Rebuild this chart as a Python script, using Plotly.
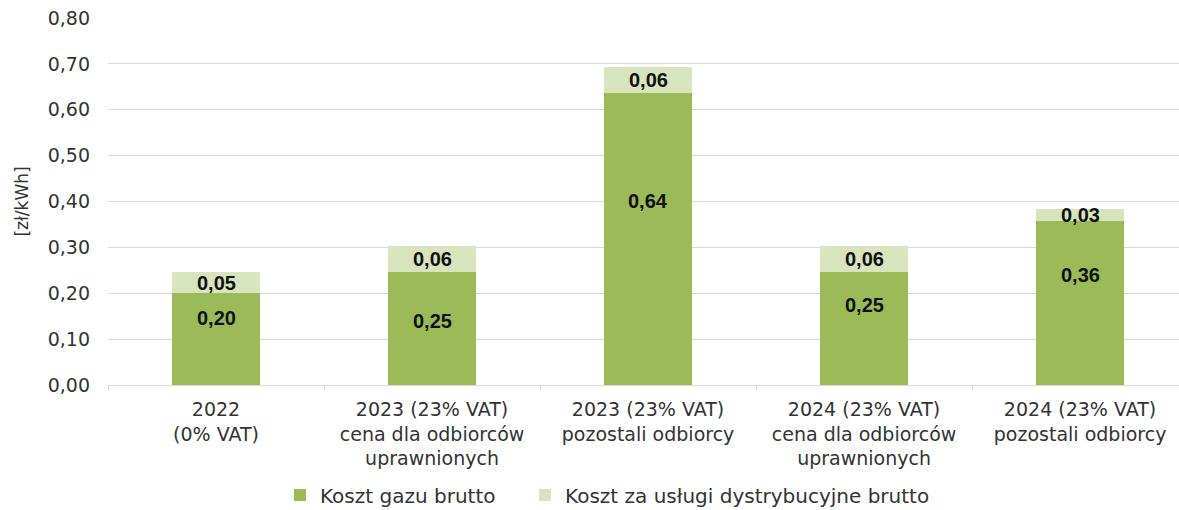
import plotly.graph_objects as go

categories = [
    "2022<br>(0% VAT)",
    "2023 (23% VAT)<br>cena dla odbiorców<br>uprawnionych",
    "2023 (23% VAT)<br>pozostali odbiorcy",
    "2024 (23% VAT)<br>cena dla odbiorców<br>uprawnionych",
    "2024 (23% VAT)<br>pozostali odbiorcy",
]
gas_cost = [0.200, 0.246, 0.636, 0.246, 0.357]
dist_cost = [0.046, 0.057, 0.057, 0.057, 0.026]
series_names = ["Koszt gazu brutto", "Koszt za usługi dystrybucyjne brutto"]
y_ticks = [0.0, 0.1, 0.2, 0.3, 0.4, 0.5, 0.6, 0.7, 0.8]

# styling: relative vertical position of the gas label inside each bar
gas_label_frac = [0.73, 0.57, 0.63, 0.71, 0.67]

DARK = "#9BBB59"
LIGHT = "#D7E4BD"
FONT = "DejaVu Sans, Liberation Sans, Arial, sans-serif"
BFONT = "Liberation Sans, Arial, sans-serif"
TXT = "#333333"

fig = go.Figure()
fig.add_trace(go.Bar(x=categories, y=gas_cost, name=series_names[0], legend="legend",
                     marker=dict(color=DARK, line=dict(width=0)), width=0.41))
fig.add_trace(go.Bar(x=categories, y=dist_cost, name=series_names[1], legend="legend2",
                     marker=dict(color=LIGHT, line=dict(width=0)), width=0.41))

annotations = []
for c, g, d, f in zip(categories, gas_cost, dist_cost, gas_label_frac):
    annotations.append(dict(x=c, y=g * f, text="<b>" + f"{g:.2f}".replace(".", ",") + "</b>",
                            showarrow=False, font=dict(size=20, color="#111111", family=BFONT),
                            xanchor="center", yanchor="middle"))
    annotations.append(dict(x=c, y=g + d / 2, text="<b>" + f"{d:.2f}".replace(".", ",") + "</b>",
                            showarrow=False, font=dict(size=20, color="#111111", family=BFONT),
                            xanchor="center", yanchor="middle"))

legend_style = dict(orientation="h", xanchor="left", y=-0.30, yanchor="middle",
                    font=dict(size=20, color=TXT), bgcolor="rgba(0,0,0,0)")

fig.update_layout(
    width=1179, height=510,
    barmode="stack",
    separators=", ",
    paper_bgcolor="white", plot_bgcolor="white",
    margin=dict(l=108, r=0, t=18, b=125, autoexpand=False),
    font=dict(family=FONT, size=18, color=TXT),
    annotations=annotations,
    showlegend=True,
    legend=dict(x=0.1606, **legend_style),
    legend2=dict(x=0.3894, **legend_style),
    xaxis=dict(type="category", range=[-0.5, 4.458], showline=True, linecolor="#D9D9D9",
               linewidth=1, ticks="outside", tickson="boundaries", ticklen=5,
               tickcolor="#D9D9D9", tickfont=dict(size=19, color=TXT),
               ticklabelstandoff=7,
               showgrid=False, automargin=False),
    yaxis=dict(range=[0, 0.8], tickvals=y_ticks, tickformat=".2f", showgrid=True,
               gridcolor="#D9D9D9", gridwidth=1, zeroline=False, showline=False,
               tickfont=dict(size=19, color=TXT), ticks="", ticklabelstandoff=17,
               automargin=False,
               title=dict(text="[zł/kWh]", font=dict(size=17, color=TXT), standoff=14)),
)

fig.write_html("out.html", config={"displayModeBar": False},
               post_script="document.body.style.margin='0';")
